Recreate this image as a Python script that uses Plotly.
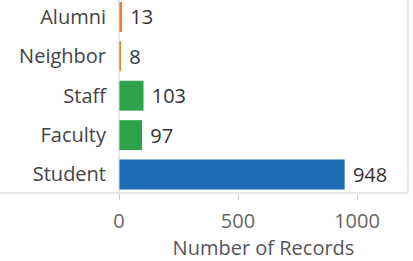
import plotly.graph_objects as go

categories = ["Student", "Faculty", "Staff", "Neighbor", "Alumni"]
values = [948, 97, 103, 8, 13]
bar_colors = ["#1F6DB4", "#2EA34B", "#2EA34B", "#E5822F", "#E5822F"]
x_ticks = [0, 500, 1000]
x_title = "Number of Records"

FONT = "Open Sans, sans-serif"
FS = 20

fig = go.Figure(go.Bar(
    x=values,
    y=categories,
    orientation="h",
    marker=dict(color=bar_colors, line=dict(width=0)),
    width=0.76,
    text=[" " + str(v) for v in values],
    textposition="outside",
    textfont=dict(family=FONT, size=FS, color="#333333"),
    cliponaxis=False,
))

fig.update_layout(
    width=413, height=261,
    margin=dict(l=119, r=5, t=0, b=68),
    paper_bgcolor="white", plot_bgcolor="white",
    showlegend=False,
    font=dict(family=FONT, size=FS, color="#444444"),
    xaxis=dict(
        range=[0, 1214],
        tickvals=x_ticks,
        ticktext=[str(t) for t in x_ticks],
        showgrid=False, zeroline=False,
        showline=False, automargin=False,
        ticks="outside", ticklen=6, tickcolor="#cccccc", tickwidth=1,
        ticklabelstandoff=4,
        tickfont=dict(family=FONT, size=FS, color="#666666"),
        title=dict(text=x_title, font=dict(family=FONT, size=FS, color="#555555"), standoff=4),
    ),
    yaxis=dict(
        type="category",
        categoryorder="array", categoryarray=categories,
        range=[-0.47, 4.43],
        showgrid=False, zeroline=False,
        showline=False, ticks="", automargin=False,
        ticklabelstandoff=12,
        tickfont=dict(family=FONT, size=FS, color="#444444"),
    ),
    shapes=[
        dict(type="line", xref="paper", yref="paper", x0=-119/289, x1=1, y0=0, y1=0,
             line=dict(color="#d4d4d4", width=1)),
        dict(type="line", xref="paper", yref="paper", x0=0, x1=0, y0=0, y1=1,
             line=dict(color="#d4d4d4", width=1)),
        dict(type="line", xref="paper", yref="paper", x0=1, x1=1, y0=0, y1=1,
             line=dict(color="#d4d4d4", width=1)),
    ],
)

fig.write_html("out.html", config={"displayModeBar": False},
               post_script="document.body.style.margin='0';")
